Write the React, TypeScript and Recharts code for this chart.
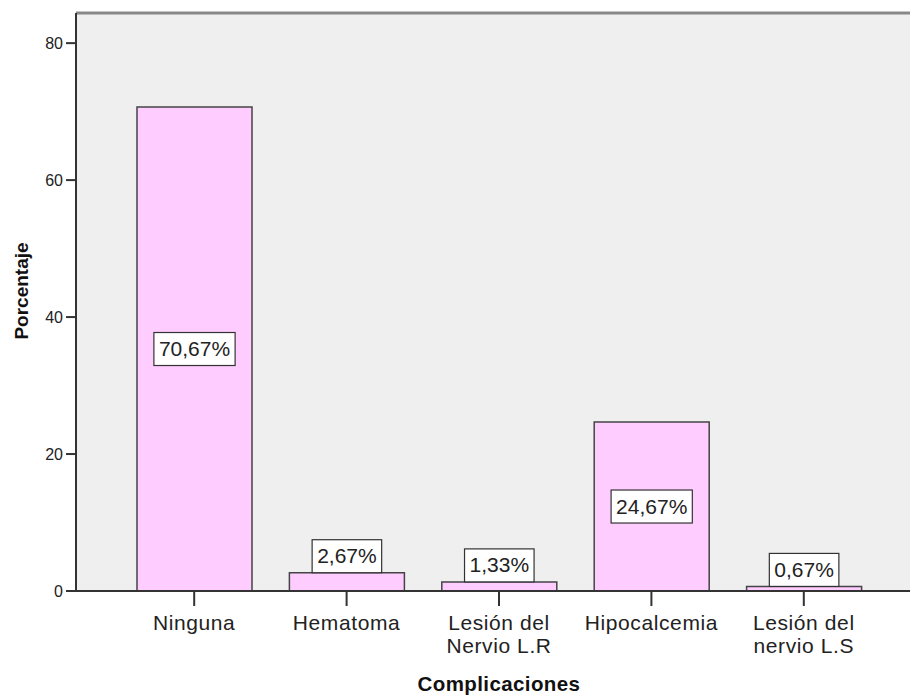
import React from "react";
import {
  Bar,
  BarChart,
  CartesianGrid,
  LabelList,
  ReferenceLine,
  XAxis,
  YAxis,
} from "recharts";

// Porcentaje de pacientes por complicación
const categories = [
  "Ninguna",
  "Hematoma",
  "Lesión del\nNervio L.R",
  "Hipocalcemia",
  "Lesión del\nnervio L.S",
];
const percentages = [70.67, 2.67, 1.33, 24.67, 0.67];
const yTicks = [0, 20, 40, 60, 80];
const yMax = 84.4;

const data = categories.map((name, i) => ({ name, pct: percentages[i] }));

const FONT = "'Liberation Sans', Arial, sans-serif";
const PAD = { left: 42, right: 30 };

const fmt = (v: number) => v.toFixed(2).replace(".", ",") + "%";

// rough Arial advance widths, for sizing the label boxes
const charW = (c: string) => (c === "," ? 0.278 : c === "%" ? 0.889 : 0.556);

function CategoryTick(props: any) {
  const { x, y, payload } = props;
  const lines = String(payload.value).split("\n");
  return (
    <text
      x={x}
      y={y}
      textAnchor="middle"
      fill="#222"
      fontSize={21}
      letterSpacing={0.6}
      fontFamily={FONT}
    >
      {lines.map((l, i) => (
        <tspan key={i} x={x} dy={i === 0 ? 22 : 23}>
          {l}
        </tspan>
      ))}
    </text>
  );
}

function ValueLabel(props: any) {
  const x = Number(props.x);
  const y = Number(props.y);
  const w = Number(props.width);
  const h = Number(props.height);
  const text = fmt(Number(props.value));
  const fs = 21;
  const boxW = text.split("").reduce((s, c) => s + charW(c) * fs, 0) + 10;
  const boxH = 33;
  const cx = x + w / 2;
  const cy = h > boxH + 10 ? y + h / 2 : y - boxH / 2;
  return (
    <g>
      <rect
        x={cx - boxW / 2}
        y={cy - boxH / 2}
        width={boxW}
        height={boxH}
        fill="#fff"
        stroke="#333"
        strokeWidth={1.2}
      />
      <text
        x={cx}
        y={cy + 7}
        textAnchor="middle"
        fontSize={fs}
        fontFamily={FONT}
        fill="#222"
      >
        {text}
      </text>
    </g>
  );
}

function XTitle(props: any) {
  const vb = props.viewBox;
  const cx = vb.x + PAD.left + (vb.width - PAD.left - PAD.right) / 2;
  return (
    <text
      x={cx}
      y={691}
      textAnchor="middle"
      fontSize={20.5}
      letterSpacing={0.4}
      fontWeight="bold"
      fontFamily={FONT}
      fill="#111"
    >
      Complicaciones
    </text>
  );
}

function YTitle() {
  return (
    <text
      x={0}
      y={0}
      transform="translate(28,291) rotate(-90)"
      textAnchor="middle"
      fontSize={19}
      fontWeight="bold"
      fontFamily={FONT}
      fill="#111"
    >
      Porcentaje
    </text>
  );
}

export default function App() {
  return (
    <div style={{ width: 910, height: 698, background: "#fff" }}>
      <style>{`body{margin:0}`}</style>
      <BarChart
        width={910}
        height={698}
        data={data}
        margin={{ top: 13, right: 0, bottom: 47, left: 0 }}
      >
        <CartesianGrid
          horizontal={false}
          vertical={false}
          fill="#efefef"
          stroke="none"
        />
        <XAxis
          dataKey="name"
          interval={0}
          height={60}
          padding={PAD}
          tickSize={15}
          tickMargin={2}
          axisLine={{ stroke: "#333", strokeWidth: 2 }}
          tickLine={{ stroke: "#333", strokeWidth: 2 }}
          tick={<CategoryTick />}
          label={<XTitle />}
        />
        <YAxis
          width={76}
          domain={[0, yMax]}
          ticks={yTicks}
          allowDataOverflow
          tickSize={10}
          tickMargin={3}
          axisLine={{ stroke: "#333", strokeWidth: 2 }}
          tickLine={{ stroke: "#333", strokeWidth: 2 }}
          tick={{ fontSize: 16, fill: "#222", fontFamily: FONT }}
          label={<YTitle />}
        />
        <ReferenceLine y={yMax} stroke="#888" strokeWidth={3} />
        <Bar
          dataKey="pct"
          barSize={115}
          fill="#ffccff"
          stroke="#444"
          strokeWidth={1.5}
          isAnimationActive={false}
        >
          <LabelList dataKey="pct" content={<ValueLabel />} />
        </Bar>
      </BarChart>
    </div>
  );
}
